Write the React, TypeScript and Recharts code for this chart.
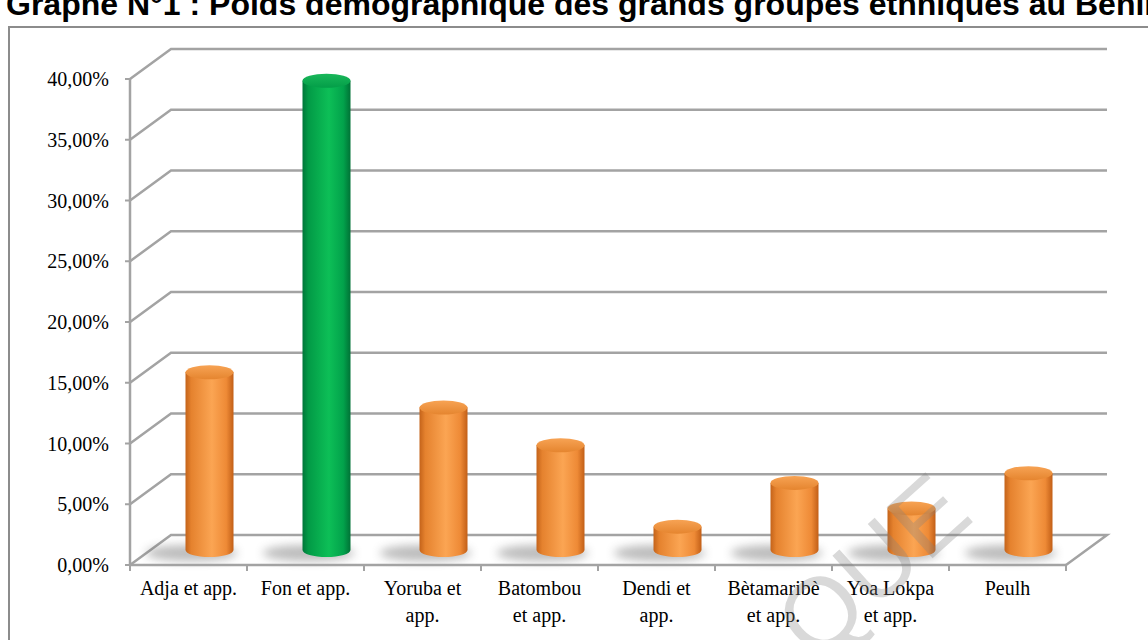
import React from 'react';
import { Bar, BarChart, CartesianGrid, XAxis, YAxis } from 'recharts';

// Poids démographique des grands groupes ethniques (RGPH)
const categories = [
  'Adja et app.',
  'Fon et app.',
  'Yoruba et app.',
  'Batombou et app.',
  'Dendi et app.',
  'Bètamaribè et app.',
  'Yoa Lokpa et app.',
  'Peulh',
];
const tickLabels = [
  ['Adja et app.'],
  ['Fon et app.'],
  ['Yoruba et', 'app.'],
  ['Batombou', 'et app.'],
  ['Dendi et', 'app.'],
  ['Bètamaribè', 'et app.'],
  ['Yoa Lokpa', 'et app.'],
  ['Peulh'],
];
const shares = [0.152, 0.392, 0.123, 0.092, 0.025, 0.061, 0.04, 0.069];
const yTicks = [0, 0.05, 0.1, 0.15, 0.2, 0.25, 0.3, 0.35, 0.4];
const HIGHLIGHT = 'Fon et app.';

const data = categories.map((name, i) => ({ name, value: shares[i] }));

const W = 1148;
const H = 640;
const PLOT_LEFT = 130;
const PLOT_TOP = 79;
const PLOT_W = 936;
const PLOT_H = 486;
const FLOOR_Y = PLOT_TOP + PLOT_H;
const DEPTH_X = 41;
const DEPTH_Y = 30;
const GRID = '#a3a3a3';
const SERIF = '"Liberation Serif", "Times New Roman", serif';
const SANS = '"Liberation Sans", Arial, sans-serif';

const fmt = (v: number) => (v * 100).toFixed(2).replace('.', ',') + '%';

const GridLine = (p: any) => {
  const { x1, y1, x2 } = p;
  const bx = x1 + DEPTH_X;
  const by = y1 - DEPTH_Y;
  let d = `M${x1},${y1} L${bx},${by} L${x2 + DEPTH_X},${by}`;
  if (Math.abs(y1 - FLOOR_Y) < 1) d += ` L${x2},${y1}`;
  return <path key={p.key} d={d} fill="none" stroke={GRID} strokeWidth={2.5} />;
};

const CategoryTick = (p: any) => {
  const { x, y, index } = p;
  const band = PLOT_W / categories.length;
  const lines = tickLabels[index] || [];
  const left = x - band / 2;
  return (
    <g>
      <line x1={left} y1={y} x2={left} y2={y + 6} stroke={GRID} strokeWidth={2} />
      {index === categories.length - 1 && (
        <line x1={x + band / 2} y1={y} x2={x + band / 2} y2={y + 6} stroke={GRID} strokeWidth={2} />
      )}
      {lines.map((t: string, i: number) => (
        <text key={i} x={x} y={y + 30 + i * 26.5} textAnchor="middle" fontFamily={SERIF} fontSize={20} fill="#000">
          {t}
        </text>
      ))}
    </g>
  );
};

const Cylinder = (p: any) => {
  const { x, y, width, height, index } = p;
  const r = width / 2;
  const ry = 7;
  const cx = x + r + DEPTH_X / 2;
  const base = y + height - DEPTH_Y / 2;
  const top = y - DEPTH_Y / 2 + ry;
  const green = categories[index] === HIGHLIGHT;
  const k = green ? 'g' : 'o';
  return (
    <g>
      <ellipse cx={cx - 18} cy={base + 3} rx={r + 22} ry={8} fill="#6a6a6a" opacity={0.45} filter="url(#soft)" />
      <path
        d={`M${cx - r},${top} L${cx - r},${base} A${r},${ry} 0 0 0 ${cx + r},${base} L${cx + r},${top} Z`}
        fill={`url(#${k}Body)`}
      />
      <ellipse cx={cx} cy={top} rx={r} ry={ry} fill={`url(#${k}Top)`} />
    </g>
  );
};

export default function App() {
  return (
    <div style={{ position: 'absolute', left: 0, top: 0, width: W, height: H, background: '#fff' }}>
      <BarChart
        width={W}
        height={H}
        data={data}
        margin={{ top: PLOT_TOP, right: W - PLOT_LEFT - PLOT_W, left: 0, bottom: 0 }}
        barSize={48}
      >
        <defs>
          <linearGradient id="oBody" x1="0" y1="0" x2="1" y2="0">
            <stop offset="0%" stopColor="#c4631a" />
            <stop offset="12%" stopColor="#e5822e" />
            <stop offset="55%" stopColor="#fba553" />
            <stop offset="85%" stopColor="#ee8a36" />
            <stop offset="100%" stopColor="#c25f17" />
          </linearGradient>
          <linearGradient id="oTop" x1="0" y1="0" x2="0" y2="1">
            <stop offset="0%" stopColor="#f7a354" />
            <stop offset="100%" stopColor="#e5852f" />
          </linearGradient>
          <linearGradient id="gBody" x1="0" y1="0" x2="1" y2="0">
            <stop offset="0%" stopColor="#00763a" />
            <stop offset="12%" stopColor="#029a46" />
            <stop offset="55%" stopColor="#0dbf57" />
            <stop offset="85%" stopColor="#02a24b" />
            <stop offset="100%" stopColor="#007236" />
          </linearGradient>
          <linearGradient id="gTop" x1="0" y1="0" x2="0" y2="1">
            <stop offset="0%" stopColor="#1ab75a" />
            <stop offset="100%" stopColor="#039e48" />
          </linearGradient>
          <filter id="soft" x="-50%" y="-200%" width="200%" height="500%">
            <feGaussianBlur stdDeviation="5" />
          </filter>
        </defs>
        <CartesianGrid vertical={false} horizontal={GridLine} />
        <XAxis
          dataKey="name"
          height={H - FLOOR_Y}
          tickSize={0}
          tickMargin={0}
          tickLine={false}
          axisLine={{ stroke: GRID, strokeWidth: 2.5 }}
          tick={CategoryTick}
          interval={0}
        />
        <YAxis
          width={PLOT_LEFT}
          domain={[0, 0.4]}
          ticks={yTicks}
          tickFormatter={fmt}
          tickSize={5}
          tickMargin={16}
          tickLine={{ stroke: GRID, strokeWidth: 2 }}
          axisLine={{ stroke: GRID, strokeWidth: 2.5 }}
          tick={{ fontFamily: SERIF, fontSize: 20, fill: '#000' }}
        />
        <Bar dataKey="value" shape={Cylinder} isAnimationActive={false} />
      </BarChart>
      <svg width={W} height={H} style={{ position: 'absolute', left: 0, top: 0, pointerEvents: 'none' }}>
        <text x={6} y={15} fontFamily={SANS} fontWeight="bold" fontSize={32} fill="#000">
          Graphe N°1 : Poids démographique des grands groupes ethniques au Bénin
        </text>
        <rect x={9} y={27} width={W} height={H} fill="none" stroke="#8c8c8c" strokeWidth={2} />
        <text
          x={0}
          y={0}
          transform="translate(815,664) rotate(-42)"
          fontFamily={SANS}
          fontSize={100}
          fill="#808080"
          fillOpacity={0.3}
        >
          QUE
        </text>
      </svg>
    </div>
  );
}
